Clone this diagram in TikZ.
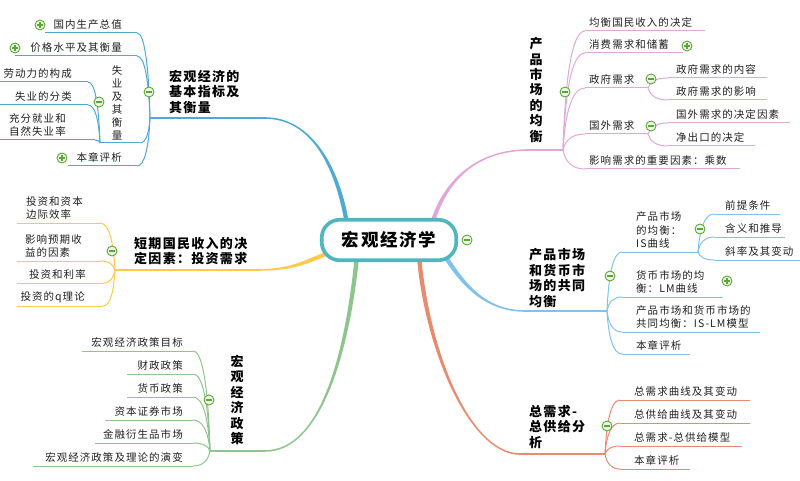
\documentclass[tikz,border=0pt]{standalone}
\usepackage{fontspec}
\setmainfont{Noto Sans CJK SC}[LetterSpace=10]
\usetikzlibrary{calc,backgrounds}
\definecolor{cBlue}{HTML}{4FAAD3}
\definecolor{cPink}{HTML}{E3A6D9}
\definecolor{cYel}{HTML}{FDC94A}
\definecolor{cGrn}{HTML}{8DC58D}
\definecolor{cOrg}{HTML}{E88A6E}
\definecolor{cLb}{HTML}{80C2EC}
\definecolor{cRoot}{HTML}{4DB7BD}
\definecolor{togc}{HTML}{5BA63A}
\definecolor{togf}{HTML}{EEF7E4}
\tikzset{
  leaf/.style={inner sep=0pt, font=\fontsize{10.5}{13.5}\selectfont, align=left, text=black!88},
  ttl/.style={inner sep=0pt, font=\fontsize{13}{15.5}\selectfont\bfseries, align=left},
  vttl/.style={inner sep=0pt, font=\fontsize{13}{15.4}\selectfont\bfseries, align=center},
  cl/.style={line width=1pt},
  mh/.style={line width=1.6pt},
  tog/.style={circle, draw=togc, fill=togf, line width=0.9pt, minimum size=10pt, inner sep=0pt},
  tminus/.style={tog, path picture={\draw[togc,line width=1.2pt] ([xshift=-2.8pt]path picture bounding box.center) -- ([xshift=2.8pt]path picture bounding box.center);}},
  tplus/.style={tog, path picture={\draw[togc,line width=1.2pt] ([xshift=-2.8pt]path picture bounding box.center) -- ([xshift=2.8pt]path picture bounding box.center) ([yshift=-2.8pt]path picture bounding box.center) -- ([yshift=2.8pt]path picture bounding box.center);}},
}
\newcommand\lnk[3]{\draw[#1] let \p1=(#2),\p2=(#3) in (\p1) .. controls ({\x1+0.1*(\x2-\x1)},{\y1+0.6*(\y2-\y1)}) and ({\x1+0.4*(\x2-\x1)},{\y2}) .. (\p2);}
% tapered main branch: colour, start, end, c1 rel, c2 rel, start offset, end offset
\newcommand\mbranch[7]{%
  \fill[#1] ($(#2)+(#6)$) .. controls +(#4) and +(#5) .. ($(#3)+(#7)$) -- ($(#3)-(#7)$) .. controls +(#5) and +(#4) .. ($(#2)-(#6)$) -- cycle;}
% name, colour, junction, x start, x end, y line, text x, text
\newcommand\rleaf[8]{%
  \coordinate (#1s) at (#4,#6); \coordinate (#1e) at (#5,#6);
  \lnk{cl,#2}{#3}{#1s}
  \draw[cl,#2] (#1s) -- (#1e);
  \node[leaf,anchor=south west] (#1) at (#7,#6-3) {#8};}
\newcommand\lleaf[8]{%
  \coordinate (#1s) at (#4,#6); \coordinate (#1e) at (#5,#6);
  \lnk{cl,#2}{#3}{#1s}
  \draw[cl,#2] (#1s) -- (#1e);
  \node[leaf,anchor=south east] (#1) at (#7,#6-3) {#8};}
\begin{document}
\begin{tikzpicture}[x=1pt,y=-1pt]
\useasboundingbox (0,0) rectangle (800,481);
% root
\node[draw=cRoot, line width=3.6pt, fill=white, rounded corners=18pt, minimum width=134.5pt, minimum height=40.5pt, inner sep=0pt, font=\fontsize{17.5}{20}\selectfont\bfseries] (root) at (389,240) {宏观经济学};
% junctions
\coordinate (J1) at (150,118);
\coordinate (J2) at (563,150);
\coordinate (J3) at (115,270);
\coordinate (J4) at (210,451);
\coordinate (J5) at (607,311);
\coordinate (J6) at (605,454);
\coordinate (B1) at (265,118);
\coordinate (P1) at (528,150);
\coordinate (Y1) at (255,270);
\coordinate (G1) at (265,451);
\coordinate (O1) at (520,454);
\coordinate (L1) at (525,311);
\coordinate (rb) at ($(root.north)+(-42,6)$);
\coordinate (rp) at ($(root.north)+(43,6)$);
\coordinate (ry) at ($(root.west)+(6,14)$);
\coordinate (rg) at ($(root.south)+(-32,-6)$);
\coordinate (ro) at ($(root.south)+(30,-6)$);
\coordinate (rl) at ($(root.south)+(56,-6)$);
\begin{scope}[on background layer]
  \mbranch{cBlue}{rb}{B1}{-10,-60}{45,0}{-2.2,0}{0,0.8}
  \draw[mh,cBlue] (B1) -- (J1);
  \mbranch{cPink}{rp}{P1}{15,-50}{-45,0}{-2.2,0}{0,-0.8}
  \draw[mh,cPink] (P1) -- (J2);
  \mbranch{cYel}{ry}{Y1}{-25,10}{35,0}{0,2.2}{0,0.8}
  \draw[mh,cYel] (Y1) -- (J3);
  \mbranch{cGrn}{rg}{G1}{-10,100}{55,0}{2.2,0}{0,0.8}
  \draw[mh,cGrn] (G1) -- (J4);
  \mbranch{cOrg}{ro}{O1}{8,95}{-50,0}{2.2,0}{0,-0.8}
  \draw[mh,cOrg] (O1) -- (J6);
  \mbranch{cLb}{rl}{L1}{18,28}{-40,0}{1.85,-1.2}{0,-0.8}
  \draw[mh,cLb] (L1) -- (J5);
\end{scope}
% titles
\node[ttl,anchor=west] (t1) at (169,92) {宏观经济的\\基本指标及\\其衡量};
\node[vttl] (t2) at (536,90) {产\\品\\市\\场\\的\\均\\衡};
\node[ttl,anchor=west] (t3) at (134,251) {短期国民收入的决\\定因素：投资需求};
\node[vttl] (t4) at (237,400) {宏\\观\\经\\济\\政\\策};
\node[ttl,anchor=west] (t5) at (529,278) {产品市场\\和货币市\\场的共同\\均衡};
\node[ttl,anchor=west] (t6) at (529,427) {总需求-\\总供给分\\析};
% blue branch
\lleaf{b11}{cBlue}{J1}{137}{45}{33}{122}{国内生产总值}
\lleaf{b12}{cBlue}{J1}{137}{15}{56}{122}{价格水平及其衡量}
\coordinate (b13s) at (140,143); \coordinate (b13e) at (100,143);
\lnk{cl,cBlue}{J1}{b13s}
\draw[cl,cBlue] (b13s) -- (b13e);
\node[leaf, align=center, font=\fontsize{10.5}{13}\selectfont] (b13) at (117,103) {失\\业\\及\\其\\衡\\量};
\lleaf{b131}{cBlue}{b13e}{88}{0}{82}{72}{劳动力的构成}
\lleaf{b132}{cBlue}{b13e}{88}{0}{105}{72}{失业的分类}
\lleaf{b133}{cBlue}{b13e}{95}{0}{140}{66}{充分就业和\\自然失业率}
\lleaf{b14}{cBlue}{J1}{137}{68}{166}{122}{本章评析}
% pink branch
\rleaf{p1}{cPink}{J2}{585}{705}{31}{589}{均衡国民收入的决定}
\rleaf{p2}{cPink}{J2}{585}{683}{53}{589}{消费需求和储蓄}
\rleaf{p3}{cPink}{J2}{585}{648}{88}{589}{政府需求}
\rleaf{p31}{cPink}{p3e}{668}{767}{78}{676}{政府需求的内容}
\rleaf{p32}{cPink}{p3e}{668}{767}{100}{676}{政府需求的影响}
\rleaf{p4}{cPink}{J2}{585}{648}{134}{589}{国外需求}
\rleaf{p41}{cPink}{p4e}{668}{790}{123}{676}{国外需求的决定因素}
\rleaf{p42}{cPink}{p4e}{668}{755}{146}{676}{净出口的决定}
\rleaf{p5}{cPink}{J2}{585}{740}{169}{589}{影响需求的重要因素：乘数}
% yellow branch
\lleaf{y1}{cYel}{J3}{100}{17}{223}{83}{投资和资本\\边际效率}
\lleaf{y2}{cYel}{J3}{100}{17}{261}{82}{影响预期收\\益的因素}
\lleaf{y3}{cYel}{J3}{103}{17}{283}{86}{投资和利率}
\lleaf{y4}{cYel}{J3}{103}{17}{306}{85}{投资的q理论}
% green branch
\lleaf{g1}{cGrn}{J4}{193}{82}{351}{183}{宏观经济政策目标}
\lleaf{g2}{cGrn}{J4}{193}{127}{374}{183}{财政政策}
\lleaf{g3}{cGrn}{J4}{193}{127}{397}{183}{货币政策}
\lleaf{g4}{cGrn}{J4}{193}{105}{420}{183}{资本证券市场}
\lleaf{g5}{cGrn}{J4}{193}{95}{443}{183}{金融衍生品市场}
\lleaf{g6}{cGrn}{J4}{193}{33}{466}{183}{宏观经济政策及理论的演变}
% light blue branch
\rleaf{l1}{cLb}{J5}{622}{698}{252}{636}{产品市场\\的均衡：\\IS曲线}
\rleaf{l11}{cLb}{l1e}{714}{780}{214}{725}{前提条件}
\rleaf{l12}{cLb}{l1e}{714}{785}{237}{725}{含义和推导}
\rleaf{l13}{cLb}{l1e}{714}{800}{260}{725}{斜率及其变动}
\rleaf{l2}{cLb}{J5}{622}{723}{297}{636}{货币市场的均\\衡：LM曲线}
\rleaf{l3}{cLb}{J5}{622}{760}{332}{636}{产品市场和货币市场的\\共同均衡：IS-LM模型}
\rleaf{l4}{cLb}{J5}{622}{690}{354}{636}{本章评析}
% orange branch
\rleaf{o1}{cOrg}{J6}{620}{750}{400}{634}{总需求曲线及其变动}
\rleaf{o2}{cOrg}{J6}{620}{750}{423}{634}{总供给曲线及其变动}
\rleaf{o3}{cOrg}{J6}{620}{742}{446}{634}{总需求-总供给模型}
\rleaf{o4}{cOrg}{J6}{620}{690}{469}{634}{本章评析}
% toggles
\node[tminus] (x0) at (467,240) {};
\node[tminus] (x1) at (149,92) {};
\node[tplus] (x2) at (40,25) {};
\node[tplus] (x3) at (15,48) {};
\node[tminus] (x4) at (99,102) {};
\node[tplus] (x5) at (62,158) {};
\node[tminus] (x6) at (565,92) {};
\node[tplus] (x7) at (687,46) {};
\node[tminus] (x8) at (651,79) {};
\node[tminus] (x9) at (651,126) {};
\node[tminus] (x10) at (112,251) {};
\node[tminus] (x11) at (209,400) {};
\node[tminus] (x12) at (610,276) {};
\node[tminus] (x13) at (700,229) {};
\node[tplus] (x14) at (727,281) {};
\node[tminus] (x15) at (607,426) {};
\end{tikzpicture}
\end{document}
